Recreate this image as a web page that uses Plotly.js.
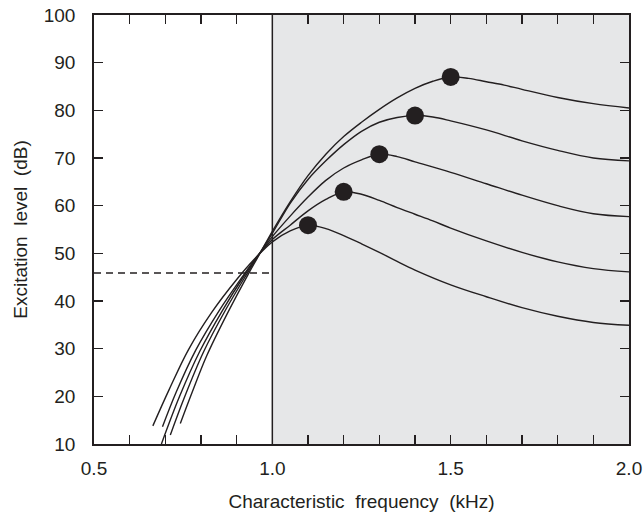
<!DOCTYPE html>
<html>
<head>
<meta charset="utf-8">
<script src="https://cdn.plot.ly/plotly-3.0.1.min.js"></script>
<style>html,body{margin:0;padding:0;background:#fff;}#chart{width:644px;height:513px;}</style>
</head>
<body>
<div id="chart"></div>
<script>
// Excitation patterns
const curve1X = [0.665, 0.710, 0.765, 0.830, 0.900, 0.950, 1.000, 1.050, 1.100, 1.150, 1.200, 1.250, 1.300, 1.350, 1.400, 1.500, 1.600, 1.700, 1.800, 1.900, 2.000];
const curve1Y = [13.8, 21.3, 29.8, 37.6, 44.5, 48.8, 52.4, 54.7, 55.9, 55.2, 53.7, 52.0, 50.2, 48.3, 46.5, 43.4, 40.9, 38.6, 36.8, 35.5, 34.9];

const curve2X = [0.692, 0.730, 0.786, 0.851, 0.915, 0.960, 1.000, 1.050, 1.100, 1.150, 1.200, 1.250, 1.300, 1.350, 1.400, 1.450, 1.500, 1.600, 1.700, 1.800, 1.900, 2.000];
const curve2Y = [13.6, 20.8, 29.8, 38.0, 45.0, 49.6, 52.9, 55.9, 58.9, 61.3, 62.9, 62.4, 61.1, 59.6, 58.2, 56.8, 55.3, 52.6, 50.2, 48.2, 46.8, 46.1];

const curve3X = [0.689, 0.740, 0.797, 0.860, 0.922, 0.963, 1.000, 1.050, 1.100, 1.150, 1.200, 1.250, 1.300, 1.350, 1.400, 1.500, 1.600, 1.700, 1.800, 1.900, 2.000];
const curve3Y = [10.0, 20.0, 29.5, 38.0, 45.4, 49.8, 53.5, 57.8, 61.8, 65.3, 67.9, 69.6, 70.8, 70.3, 69.2, 67.0, 64.6, 62.2, 60.0, 58.3, 57.7];

const curve4X = [0.714, 0.752, 0.807, 0.868, 0.928, 0.966, 1.000, 1.050, 1.100, 1.150, 1.200, 1.250, 1.300, 1.350, 1.400, 1.450, 1.500, 1.600, 1.700, 1.800, 1.900, 2.000];
const curve4Y = [11.9, 19.5, 29.3, 38.0, 45.6, 50.2, 54.2, 60.5, 65.5, 69.4, 72.8, 75.6, 77.5, 78.5, 78.9, 78.6, 77.8, 75.9, 73.6, 71.6, 70.0, 69.4];

const curve5X = [0.742, 0.776, 0.816, 0.874, 0.933, 0.970, 1.000, 1.050, 1.100, 1.150, 1.200, 1.250, 1.300, 1.350, 1.400, 1.450, 1.500, 1.550, 1.600, 1.650, 1.700, 1.800, 1.900, 2.000];
const curve5Y = [14.3, 21.0, 28.5, 37.4, 45.7, 50.6, 54.6, 60.8, 66.3, 70.8, 74.5, 77.5, 80.2, 82.6, 84.6, 86.1, 87.0, 86.7, 86.0, 85.3, 84.4, 82.7, 81.4, 80.5];

const peakX = [1.1, 1.2, 1.3, 1.4, 1.5];
const peakY = [55.9, 62.9, 70.8, 78.9, 87.0];

const thresholdLevel = 45.9;
const signalFreq = 1.0;

const xTickVals = [0.5, 0.6, 0.7, 0.8, 0.9, 1.0, 1.1, 1.2, 1.3, 1.4, 1.5, 1.6, 1.7, 1.8, 1.9, 2.0];
const xTickText = ['0.5', '', '', '', '', '1.0', '', '', '', '', '1.5', '', '', '', '', '2.0'];
const yTickVals = [10, 20, 30, 40, 50, 60, 70, 80, 90, 100];

const ink = '#231f20';
const curves = [[curve1X, curve1Y], [curve2X, curve2Y], [curve3X, curve3Y], [curve4X, curve4Y], [curve5X, curve5Y]];

const traces = curves.map(c => ({
  x: c[0], y: c[1], type: 'scatter', mode: 'lines',
  line: {color: ink, width: 1.4, shape: 'spline', smoothing: 1},
  hoverinfo: 'skip', showlegend: false
}));
traces.push({
  x: peakX, y: peakY, type: 'scatter', mode: 'markers',
  marker: {color: ink, size: 18}, showlegend: false, cliponaxis: false
});

const fam = 'Liberation Sans, Arial, sans-serif';

const layout = {
  width: 644, height: 513,
  margin: {l: 94, r: 15, t: 15, b: 69},
  paper_bgcolor: '#ffffff', plot_bgcolor: '#ffffff',
  font: {family: fam, size: 19, color: ink},
  showlegend: false,
  xaxis: {
    range: [0.5, 2.0], tickvals: xTickVals, ticktext: xTickText,
    ticks: 'inside', ticklen: 9, tickwidth: 1.5, tickcolor: ink,
    showline: true, linecolor: ink, linewidth: 1.8, mirror: 'ticks',
    showgrid: false, zeroline: false,
    tickfont: {family: fam, size: 19, color: ink},
    ticklabelstandoff: 6, ticklabeloverflow: 'allow',
    title: {text: 'Characteristic&nbsp; frequency&nbsp; (kHz)', font: {family: fam, size: 19, color: ink}, standoff: 17}
  },
  yaxis: {
    range: [10, 100], tickvals: yTickVals,
    ticks: 'inside', ticklen: 9, tickwidth: 1.5, tickcolor: ink,
    showline: true, linecolor: ink, linewidth: 1.8, mirror: 'ticks',
    showgrid: false, zeroline: false,
    tickfont: {family: fam, size: 19, color: ink},
    ticklabelstandoff: 13, ticklabeloverflow: 'allow',
    title: {text: 'Excitation&nbsp; level&nbsp; (dB)', font: {family: fam, size: 19, color: ink}, standoff: 11}
  },
  shapes: [
    {type: 'rect', xref: 'x', yref: 'y', x0: signalFreq, x1: 2.0, y0: 10, y1: 100, fillcolor: '#e6e7e8', line: {width: 0}, layer: 'below'},
    {type: 'line', xref: 'x', yref: 'y', x0: signalFreq, x1: signalFreq, y0: 10, y1: 100, line: {color: ink, width: 1.5}},
    {type: 'line', xref: 'x', yref: 'y', x0: 0.5, x1: signalFreq, y0: thresholdLevel, y1: thresholdLevel, line: {color: ink, width: 1.5, dash: '7px,5px'}}
  ]
};

Plotly.newPlot('chart', traces, layout, {displayModeBar: false, staticPlot: true});
</script>
</body>
</html>
